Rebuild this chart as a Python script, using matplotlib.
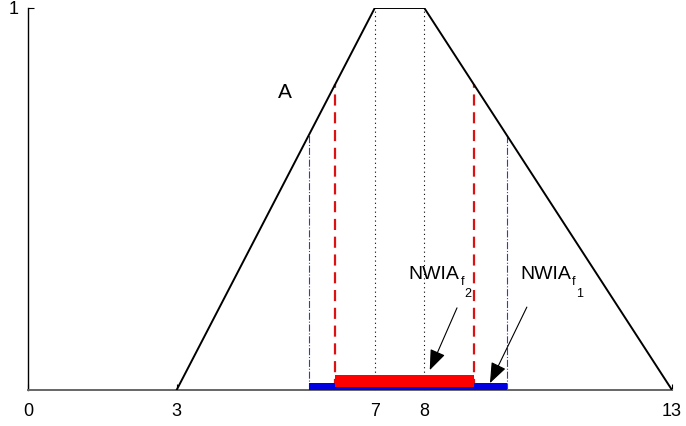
import matplotlib
matplotlib.use("Agg")
import matplotlib.pyplot as plt
from matplotlib.transforms import offset_copy

plt.rcParams['font.family'] = ['Liberation Sans', 'DejaVu Sans']

# Trapezoidal fuzzy number A
trap_x = [3, 7, 8, 13]
trap_y = [0, 1, 1, 0]
# alpha cuts
alpha_f1 = 2 / 3
alpha_f2 = 0.8
cut_f1 = [5.667, 9.667]
cut_f2 = [6.2, 9.0]
xtick_vals = [0, 3, 7, 8, 13]
xtick_labels = ['0', '3', '7', '8', '13']
ytick_vals = [1]
ytick_labels = ['1']

fig = plt.figure(figsize=(6.86, 4.26), dpi=100)
ax = fig.add_axes([28/686, 1 - 390/426, 644/686, 382/426])

ax.plot(trap_x, trap_y, color='black', lw=1.4, zorder=3)
for xv in [7, 8]:
    ax.plot([xv, xv], [0, 1], color='black', lw=0.8, ls=(0, (1, 3)), zorder=2)

for xv in cut_f1:
    ax.plot([xv, xv], [0, alpha_f1], color='#3a3ab8', lw=0.8, ls='-.', zorder=2)
for xv in cut_f2:
    ax.plot([xv, xv], [0, alpha_f2], color='#dd1111', lw=1.6, ls=(0, (5, 3)), zorder=2)

ax.fill_between(cut_f1, 0, 0.018, color='#0000e0', lw=0, zorder=4)
ax.fill_between(cut_f2, 0.009, 0.04, color='#ff0000', lw=0, zorder=5)

ax.text(5.19, 0.78, 'A', fontsize=15, ha='center', va='center')


def nwia(x, y, sub):
    ax.text(x, y, 'NWIA', fontsize=14, ha='left', va='baseline')
    t1 = offset_copy(ax.transData, fig=fig, x=52 * 0.72, y=-6 * 0.72, units='points')
    ax.text(x, y, 'f', fontsize=9, ha='left', va='baseline', transform=t1)
    t2 = offset_copy(ax.transData, fig=fig, x=56 * 0.72, y=-18 * 0.72, units='points')
    ax.text(x, y, sub, fontsize=9, ha='left', va='baseline', transform=t2)


nwia(7.68, 0.29, '2')
nwia(9.93, 0.29, '1')

arrow_kw = dict(arrowstyle='-|>,head_length=0.9,head_width=0.35', color='black',
                lw=0.8, mutation_scale=14, shrinkA=0, shrinkB=0)
ax.annotate('', xy=(8.11, 0.052), xytext=(8.66, 0.215), arrowprops=arrow_kw)
ax.annotate('', xy=(9.325, 0.018), xytext=(10.07, 0.217), arrowprops=arrow_kw)

ax.set_xlim(0, 13)
ax.set_ylim(0, 1)
ax.set_xticks(xtick_vals)
ax.set_xticklabels(xtick_labels, fontsize=13)
ax.set_yticks(ytick_vals)
ax.set_yticklabels(ytick_labels, fontsize=13)
ax.tick_params(direction='in', length=4, width=0.8)
ax.tick_params(axis='x', pad=9)
ax.tick_params(axis='y', pad=7)
ax.spines['top'].set_visible(False)
ax.spines['right'].set_visible(False)
ax.spines['bottom'].set_color('#666666')
ax.spines['bottom'].set_linewidth(1.4)
ax.spines['left'].set_linewidth(1.0)

fig.savefig('out.png', dpi=100)
